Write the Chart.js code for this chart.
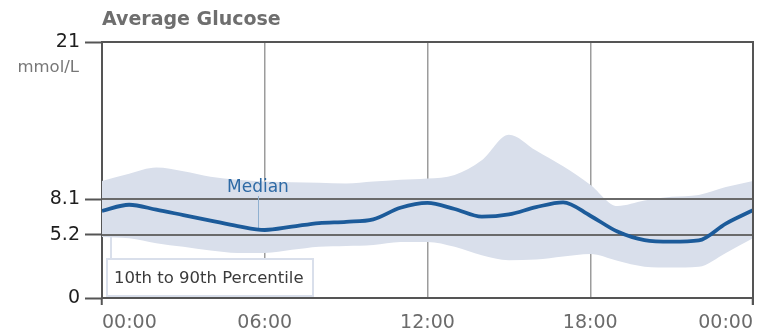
<!DOCTYPE html>
<html>
<head>
<meta charset="utf-8">
<title>Average Glucose</title>
<script src="https://cdn.jsdelivr.net/npm/chart.js@4.4.1/dist/chart.umd.min.js"></script>
<style>
  html, body { margin: 0; padding: 0; background: #ffffff; }
  #wrap { width: 777px; height: 336px; position: relative; }
</style>
</head>
<body>
<div id="wrap"><canvas id="agp" width="777" height="336"></canvas></div>
<script>
// Hour of day for each sample (0 = midnight, 24 = next midnight)
const hours  = [0, 1, 2, 3, 4, 5, 6, 7, 8, 9, 10, 11, 12, 13, 14, 15, 16, 17, 18, 19, 20, 21, 22, 23, 24];
// Median glucose, mmol/L
const median = [7.15, 7.65, 7.25, 6.8, 6.35, 5.9, 5.58, 5.85, 6.15, 6.25, 6.45, 7.4, 7.8, 7.3, 6.67, 6.85, 7.45, 7.85, 6.75, 5.45, 4.75, 4.62, 4.72, 6.1, 7.2];
// 90th percentile, mmol/L
const p90    = [9.6, 10.2, 10.7, 10.4, 9.95, 9.7, 9.55, 9.5, 9.45, 9.4, 9.55, 9.7, 9.8, 10.1, 11.3, 13.4, 12.1, 10.8, 9.3, 7.55, 8.0, 8.3, 8.45, 9.1, 9.6];
// 10th percentile, mmol/L
const p10    = [5.0, 4.9, 4.5, 4.2, 3.9, 3.7, 3.7, 3.95, 4.2, 4.27, 4.35, 4.6, 4.6, 4.2, 3.5, 3.1, 3.15, 3.4, 3.6, 3.05, 2.57, 2.5, 2.57, 3.7, 4.9];

const yTicks = [0, 5.2, 8.1, 21];
const xTicks = [0, 6, 12, 18, 24];
const targetRange = [5.2, 8.1];

const titleText  = 'Average Glucose';
const unitText   = 'mmol/L';
const medianText = 'Median';
const bandText   = '10th to 90th Percentile';
const medianLabelHour = 5.75;

const FONT = '"DejaVu Sans", "Liberation Sans", sans-serif';
const AXIS = '#555555';
const BAND = '#d9dfeb';
const LINE = '#1c5b9a';

const fmtHour = v => String(v % 24).padStart(2, '0') + ':00';

const decorations = {
  id: 'decorations',
  beforeDatasetDraw(chart, args) {
    if (args.index !== 0) return;
    const { ctx, chartArea: a, scales: { x, y } } = chart;
    ctx.save();
    // target range lines sit above the percentile band, below the median
    ctx.strokeStyle = '#6a6a6a';
    ctx.lineWidth = 2;
    targetRange.forEach(v => {
      const py = Math.round(y.getPixelForValue(v));
      ctx.beginPath();
      ctx.moveTo(a.left, py);
      ctx.lineTo(a.right, py);
      ctx.stroke();
    });
    // leader from the "Median" label down to the line
    const mx = Math.round(x.getPixelForValue(medianLabelHour)) + 0.5;
    ctx.strokeStyle = '#8fb0d0';
    ctx.lineWidth = 1;
    ctx.beginPath();
    ctx.moveTo(mx, 196);
    ctx.lineTo(mx, y.getPixelForValue(5.6));
    ctx.stroke();
    ctx.restore();
  },
  afterDatasetsDraw(chart) {
    const { ctx, chartArea: a, scales: { x, y } } = chart;
    ctx.save();
    // frame: top edge at 21 and right edge
    ctx.strokeStyle = AXIS;
    ctx.lineWidth = 2;
    ctx.beginPath();
    ctx.moveTo(a.left, a.top);
    ctx.lineTo(a.right, a.top);
    ctx.lineTo(a.right, a.bottom + 7);
    ctx.stroke();

    // band legend box with its leader
    const bx = a.left + 5, by = 259, bw = 206, bh = 37;
    ctx.strokeStyle = BAND;
    ctx.lineWidth = 2;
    ctx.beginPath();
    ctx.moveTo(bx + 4, by);
    ctx.lineTo(bx + 4, y.getPixelForValue(p10[0]));
    ctx.stroke();
    ctx.fillStyle = '#ffffff';
    ctx.fillRect(bx, by, bw, bh);
    ctx.strokeRect(bx, by, bw, bh);
    ctx.fillStyle = '#3a3a3a';
    ctx.font = '16.5px ' + FONT;
    ctx.textAlign = 'left';
    ctx.textBaseline = 'alphabetic';
    ctx.fillText(bandText, bx + 7, by + 24);

    // median label
    ctx.fillStyle = '#2e6aa5';
    ctx.font = '17px ' + FONT;
    ctx.textAlign = 'center';
    ctx.fillText(medianText, x.getPixelForValue(medianLabelHour), 192);

    // title and unit
    ctx.fillStyle = '#6e6e6e';
    ctx.font = 'bold 19px ' + FONT;
    ctx.textAlign = 'left';
    ctx.fillText(titleText, a.left, 25);
    ctx.fillStyle = '#777777';
    ctx.font = '16.5px ' + FONT;
    ctx.textAlign = 'right';
    ctx.fillText(unitText, 79, 72);
    ctx.restore();
  }
};

const isEnd = v => v === xTicks[0] || v === xTicks[xTicks.length - 1];

new Chart(document.getElementById('agp'), {
  type: 'line',
  data: {
    datasets: [
      {
        label: 'Median',
        data: hours.map((h, i) => ({ x: h, y: median[i] })),
        borderColor: LINE,
        borderWidth: 3.8,
        pointRadius: 0,
        cubicInterpolationMode: 'monotone',
        fill: false
      },
      {
        label: '90th',
        data: hours.map((h, i) => ({ x: h, y: p90[i] })),
        borderWidth: 0,
        borderColor: BAND,
        backgroundColor: BAND,
        pointRadius: 0,
        cubicInterpolationMode: 'monotone',
        fill: '+1'
      },
      {
        label: '10th',
        data: hours.map((h, i) => ({ x: h, y: p10[i] })),
        borderWidth: 0,
        borderColor: BAND,
        pointRadius: 0,
        cubicInterpolationMode: 'monotone',
        fill: false
      }
    ]
  },
  options: {
    responsive: false,
    animation: false,
    devicePixelRatio: 1,
    layout: { padding: { left: 0, top: 42, right: 24, bottom: 0 } },
    plugins: { legend: { display: false }, tooltip: { enabled: false }, title: { display: false } },
    scales: {
      x: {
        type: 'linear',
        min: 0,
        max: 24,
        afterBuildTicks: s => { s.ticks = xTicks.map(v => ({ value: v })); },
        afterFit: s => { s.height = 38; },
        ticks: {
          align: 'inner',
          maxRotation: 0,
          autoSkip: false,
          padding: 7,
          color: '#6b6b6b',
          font: { family: FONT, size: 19 },
          callback: v => fmtHour(v)
        },
        grid: {
          drawOnChartArea: true,
          color: c => (c.tick && !isEnd(c.tick.value)) ? '#9c9c9c' : 'rgba(0,0,0,0)',
          lineWidth: 1.5,
          tickLength: 7,
          tickColor: c => (c.tick && isEnd(c.tick.value)) ? AXIS : 'rgba(0,0,0,0)',
          tickWidth: 2
        },
        border: { display: true, color: AXIS, width: 2 }
      },
      y: {
        min: 0,
        max: 21,
        afterBuildTicks: s => { s.ticks = yTicks.map(v => ({ value: v })); },
        afterFit: s => { s.width = 102; },
        ticks: {
          padding: 5,
          color: '#1e1e1e',
          font: { family: FONT, size: 19 },
          callback: v => String(v)
        },
        grid: {
          drawOnChartArea: false,
          tickLength: 17,
          tickColor: AXIS,
          tickWidth: 2
        },
        border: { display: true, color: AXIS, width: 2 }
      }
    }
  },
  plugins: [decorations]
});
</script>
</body>
</html>
